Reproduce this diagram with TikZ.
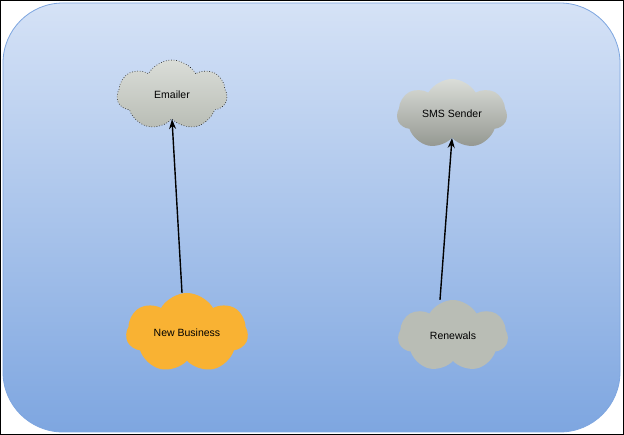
\documentclass[tikz,border=0pt]{standalone}
\usepackage{fontspec}
\setmainfont{Liberation Sans}
\usetikzlibrary{shapes.symbols,arrows.meta}
\definecolor{bgtop}{HTML}{D5E2F6}
\definecolor{bgbot}{HTML}{7EA6E0}
\definecolor{bgline}{HTML}{7EA6E0}
\definecolor{cloudgray}{HTML}{B9BDB5}
\definecolor{cloudlight}{HTML}{DADDD8}
\definecolor{orangec}{HTML}{F9B233}
\tikzset{
  cloudbox/.style={cloud, cloud puffs=7, cloud puff arc=120, cloud ignores aspect, inner sep=0pt,
    minimum width=110pt, minimum height=70pt, font=\fontsize{10.5}{12}\selectfont},
  graycloud/.style={cloudbox, top color=cloudlight, bottom color=cloudgray},
  link/.style={draw=black, line width=1.4pt, -{Stealth[length=10pt,width=7pt]}}
}
\begin{document}
\begin{tikzpicture}[x=1pt,y=-1pt]
\useasboundingbox (0,0) rectangle (624,435);
\fill[white] (0,0) rectangle (624,435);
\draw[black, line width=1pt] (0.5,0.5) rectangle (623.5,434.5);
\shade[top color=bgtop, bottom color=bgbot, draw=bgline, line width=0.8pt, rounded corners=60pt] (3,3) rectangle (620,432);
\node[graycloud, draw=black, dotted, line width=0.6pt] (em) at (172,95) {Emailer};
\node[graycloud, draw=none, bottom color=cloudgray!80!black] (sms) at (452,114) {SMS Sender};
\node[cloudbox, fill=orangec, minimum width=122pt, minimum height=80pt] (nb) at (187,333) {New Business};
\node[cloudbox, fill=cloudgray, minimum width=110pt, minimum height=72pt] (rn) at (453,336) {Renewals};
\draw[link] (nb.north) ++(-5,0) coordinate (nbt) (nbt) -- (em.south);
\draw[link] (rn.north) ++(-13,0) coordinate (rnt) (rnt) -- (sms.south);
\end{tikzpicture}
\end{document}
